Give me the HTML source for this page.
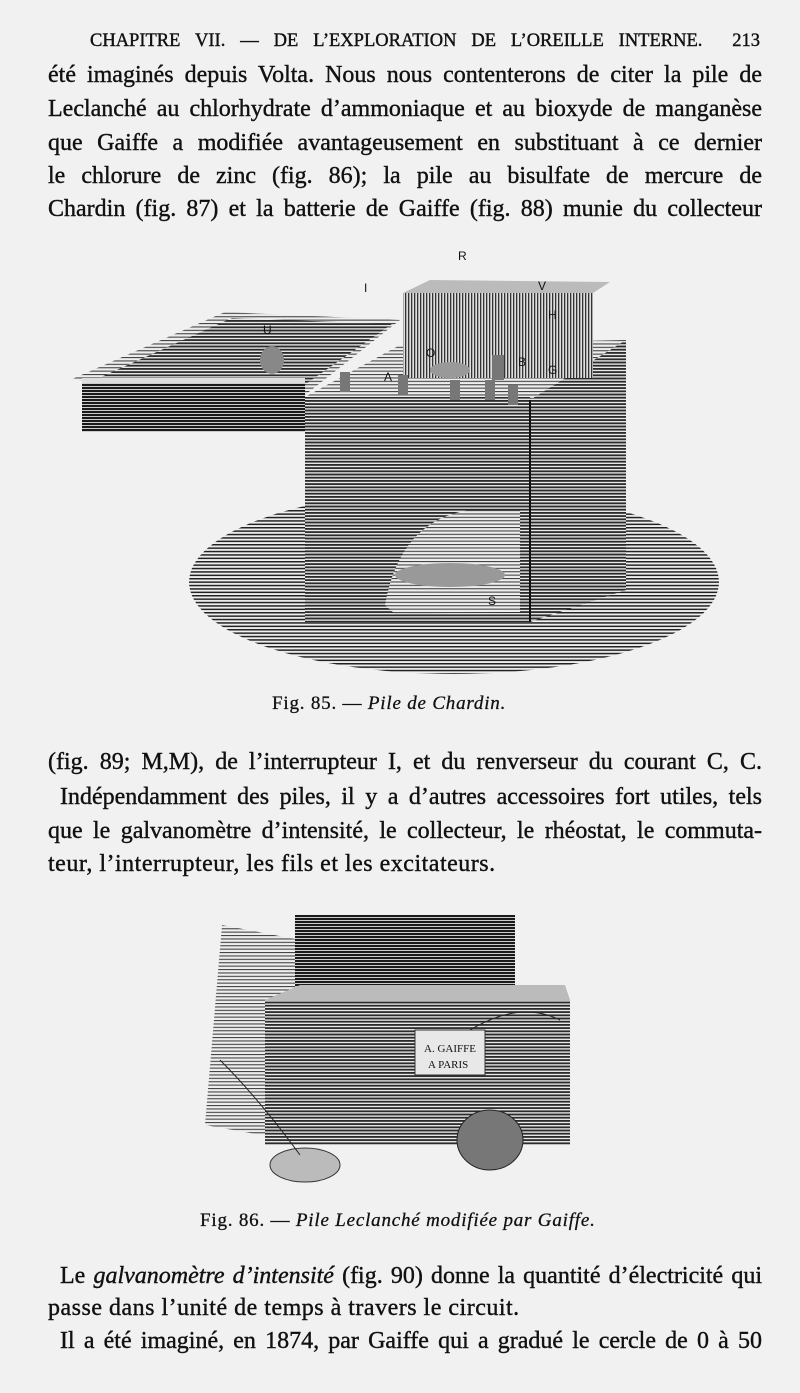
<!DOCTYPE html>
<html><head><meta charset="utf-8">
<style>
html,body{margin:0;padding:0}
body{width:800px;height:1393px;background:#f1f1f1;position:relative;overflow:hidden;font-family:"Liberation Serif",serif;color:#111}
.l{position:absolute;left:48px;width:714px;font-size:24px;line-height:26px;text-align:justify;text-align-last:justify;white-space:nowrap;-webkit-text-stroke:0.4px #111}
.hd{position:absolute;left:90px;width:670px;top:31px;font-size:18.5px;text-align-last:justify;text-align:justify;-webkit-text-stroke:0.4px #111}
.cap{position:absolute;font-size:19px;letter-spacing:0.8px;white-space:nowrap;-webkit-text-stroke:0.3px #111}
svg{position:absolute;left:0;top:0}
</style></head><body>
<svg width="800" height="1393">
<defs>
<pattern id="h" width="6" height="3.2" patternUnits="userSpaceOnUse"><rect width="6" height="3.2" fill="#e6e6e6"/><rect width="6" height="1.8" fill="#2a2a2a"/></pattern>
<pattern id="hs" width="6" height="3.4" patternUnits="userSpaceOnUse"><rect width="6" height="3.4" fill="#eee"/><rect width="6" height="1.5" fill="#222"/></pattern>
<pattern id="hd" width="6" height="3" patternUnits="userSpaceOnUse"><rect width="6" height="3" fill="#ccc"/><rect width="6" height="2" fill="#1a1a1a"/></pattern>
<pattern id="v" width="3" height="6" patternUnits="userSpaceOnUse"><rect width="3" height="6" fill="#ddd"/><rect width="1.3" height="6" fill="#333"/></pattern>
<pattern id="hl" width="6" height="3.4" patternUnits="userSpaceOnUse"><rect width="6" height="3.4" fill="#eee"/><rect width="6" height="1.1" fill="#444"/></pattern>
</defs>
<!-- Fig 85 -->
<ellipse cx="454" cy="582" rx="265" ry="92" fill="url(#hs)"/>
<polygon points="70,380 225,312 400,320 305,395" fill="url(#hl)"/>
<polygon points="90,382 232,318 392,324 300,388" fill="url(#h)"/>
<rect x="82" y="380" width="223" height="52" fill="url(#hd)"/>
<rect x="82" y="378" width="223" height="5" fill="#ddd"/>
<polygon points="305,397 400,345 626,340 530,400" fill="url(#hl)"/>
<rect x="305" y="397" width="225" height="225" fill="url(#h)"/>
<polygon points="530,400 626,340 626,590 530,622" fill="url(#h)"/>
<line x1="530" y1="400" x2="530" y2="622" stroke="#111" stroke-width="2"/>
<rect x="403" y="293" width="190" height="85" fill="url(#v)"/>
<polygon points="403,293 430,280 610,282 593,293" fill="#bbb"/>
<path d="M385,605 Q400,520 470,510 L520,510 L520,612 L395,614Z" fill="url(#hl)"/>
<ellipse cx="450" cy="575" rx="55" ry="12" fill="#999"/>
<ellipse cx="272" cy="360" rx="12" ry="14" fill="#888"/>
<ellipse cx="450" cy="370" rx="20" ry="8" fill="#999"/>
<g fill="#777"><rect x="340" y="372" width="10" height="20"/><rect x="398" y="375" width="10" height="20"/><rect x="450" y="380" width="10" height="20"/><rect x="485" y="380" width="10" height="20"/><rect x="508" y="385" width="10" height="20"/><rect x="492" y="355" width="12" height="25"/></g>
<g font-family="Liberation Sans,sans-serif" font-size="12" fill="#111"><text x="458" y="260">R</text><text x="364" y="292">I</text><text x="263" y="334">U</text><text x="548" y="319">H</text><text x="426" y="357">O</text><text x="384" y="381">A</text><text x="518" y="366">B</text><text x="548" y="374">G</text><text x="488" y="605">S</text><text x="538" y="290">V</text></g>
<!-- Fig 86 -->
<polygon points="205,1125 222,925 300,940 290,1140" fill="url(#hl)"/>
<rect x="295" y="915" width="220" height="85" fill="url(#hd)"/>
<polygon points="265,1000 300,985 565,985 570,1000" fill="#bbb"/>
<rect x="265" y="1000" width="305" height="145" fill="url(#h)"/>
<rect x="415" y="1030" width="70" height="45" fill="#e8e8e8" stroke="#333"/>
<text x="424" y="1052" font-size="11" fill="#111">A. GAIFFE</text>
<text x="428" y="1068" font-size="11" fill="#111">A PARIS</text>
<ellipse cx="305" cy="1165" rx="35" ry="17" fill="#bbb" stroke="#333"/>
<ellipse cx="490" cy="1140" rx="33" ry="30" fill="#777" stroke="#222"/>
<path d="M220,1060 Q260,1100 300,1155 M470,1030 Q520,1000 560,1020" stroke="#222" fill="none"/>
</svg>
<div class="hd">CHAPITRE VII. — DE L’EXPLORATION DE L’OREILLE INTERNE. &nbsp;213</div>
<div class="l" style="top:62px">été imaginés depuis Volta. Nous nous contenterons de citer la pile de</div>
<div class="l" style="top:96px">Leclanché au chlorhydrate d’ammoniaque et au bioxyde de manganèse</div>
<div class="l" style="top:130px">que Gaiffe a modifiée avantageusement en substituant à ce dernier</div>
<div class="l" style="top:163px">le chlorure de zinc (fig. 86); la pile au bisulfate de mercure de</div>
<div class="l" style="top:196px">Chardin (fig. 87) et la batterie de Gaiffe (fig. 88) munie du collecteur</div>
<div class="cap" style="left:272px;top:693px">Fig. 85. — <i>Pile de Chardin.</i></div>
<div class="l" style="top:749px">(fig. 89; M,M), de l’interrupteur I, et du renverseur du courant C, C.</div>
<div class="l" style="top:784px;left:60px;width:702px">Indépendamment des piles, il y a d’autres accessoires fort utiles, tels</div>
<div class="l" style="top:818px">que le galvanomètre d’intensité, le collecteur, le rhéostat, le commuta-</div>
<div class="l" style="top:851px;width:450px;text-align-last:left;letter-spacing:0.5px">teur, l’interrupteur, les fils et les excitateurs.</div>
<div class="cap" style="left:200px;top:1210px">Fig. 86. — <i>Pile Leclanché modifiée par Gaiffe.</i></div>
<div class="l" style="top:1263px;left:60px;width:702px">Le <i>galvanomètre d’intensité</i> (fig. 90) donne la quantité d’électricité qui</div>
<div class="l" style="top:1295px;width:450px;text-align-last:left;letter-spacing:0.5px">passe dans l’unité de temps à travers le circuit.</div>
<div class="l" style="top:1328px;left:60px;width:702px">Il a été imaginé, en 1874, par Gaiffe qui a gradué le cercle de 0 à 50</div>
</body></html>
